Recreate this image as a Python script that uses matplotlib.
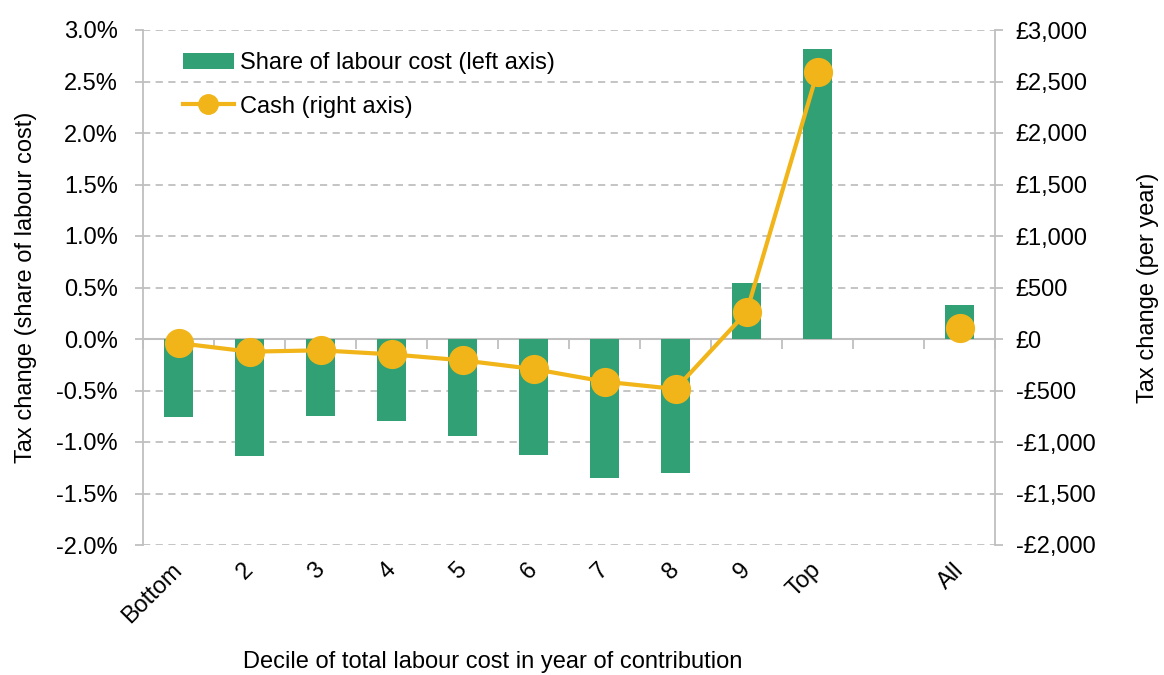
import numpy as np
import matplotlib
matplotlib.use("Agg")
import matplotlib.pyplot as plt
from matplotlib.ticker import FuncFormatter
from matplotlib.transforms import ScaledTranslation

plt.rcParams['font.family'] = ['Liberation Sans', 'DejaVu Sans']

# data
labels = ['Bottom', '2', '3', '4', '5', '6', '7', '8', '9', 'Top', '', 'All']
share = [-0.76, -1.14, -0.75, -0.80, -0.94, -1.13, -1.35, -1.30, 0.54, 2.82, np.nan, 0.33]
cash = [-40, -123, -110, -149, -207, -291, -414, -485, 259, 2595, np.nan, 104]

green = '#31A075'
yellow = '#F1B51A'
grey = '#BFBFBF'
fs = 17

fig = plt.figure(figsize=(11.64, 6.75), dpi=100)
ax = fig.add_axes([143 / 1164, 1 - 545 / 675, (995 - 143) / 1164, (545 - 30) / 675])
ax2 = ax.twinx()

x = np.arange(len(labels))

# bars (left axis)
bars = ax.bar(x, share, width=0.4, color=green, zorder=2, label='Share of labour cost (left axis)')
ax.set_xlim(-0.5, len(labels) - 0.5)
ax.set_ylim(-2.0, 3.0)
ax.set_yticks(np.arange(-2.0, 3.01, 0.5))
ax.yaxis.set_major_formatter(FuncFormatter(lambda v, p: f'{v:.1f}%'))
ax.grid(axis='y', color=grey, linestyle=(0, (4, 3)), linewidth=1.3, zorder=0)
ax.set_axisbelow(True)

# line (right axis)
line, = ax2.plot(x, cash, color=yellow, linewidth=3, marker='o', markersize=20,
                 zorder=3, label='Cash (right axis)')
ax2.set_ylim(-2000, 3000)
ax2.set_yticks(np.arange(-2000, 3001, 500))
ax2.yaxis.set_major_formatter(FuncFormatter(
    lambda v, p: f'£{v:,.0f}' if v >= 0 else f'-£{-v:,.0f}'))

for a in (ax, ax2):
    for s in ('top', 'bottom'):
        a.spines[s].set_visible(False)
    a.spines['left'].set_color(grey)
    a.spines['right'].set_color(grey)
    a.spines['left'].set_linewidth(1.3)
    a.spines['right'].set_linewidth(1.3)
ax.spines['right'].set_visible(False)
ax2.spines['left'].set_visible(False)

ax.tick_params(axis='y', colors=grey, labelcolor='black', labelsize=fs, length=6, width=1.3, pad=12)
ax2.tick_params(axis='y', colors=grey, labelcolor='black', labelsize=fs, length=6, width=1.3, pad=9)

# category labels at bottom
ax.set_xticks(x)
ax.set_xticklabels(labels, rotation=45, ha='right', fontsize=fs)
ax.tick_params(axis='x', length=0, pad=10)
shift = ScaledTranslation(6 / 72, 0, fig.dpi_scale_trans)
for t in ax.get_xticklabels():
    t.set_transform(t.get_transform() + shift)

# zero axis with boundary ticks
zero_frac = (0 - ax.get_ylim()[0]) / (ax.get_ylim()[1] - ax.get_ylim()[0])
sec = ax.secondary_xaxis(zero_frac)
sec.set_xticks(np.arange(-0.5, len(labels), 1.0))
sec.set_xticklabels([])
sec.tick_params(axis='x', colors=grey, length=7, width=1.3, direction='out')
sec.spines['bottom'].set_color(grey)
sec.spines['bottom'].set_linewidth(1.5)

ax.set_ylabel('Tax change (share of labour cost)', fontsize=fs)
ax.yaxis.set_label_coords(-0.1245, 0.5)
ax2.set_ylabel('Tax change (per year)', fontsize=fs)
ax2.yaxis.set_label_coords(1.167, 0.5)
ax.set_xlabel('Decile of total labour cost in year of contribution', fontsize=fs)
ax.xaxis.set_label_coords(0.41, -0.227)
ax.xaxis.label.set_va('center')

ax2.legend([bars, line], [bars.get_label(), line.get_label()], loc='upper left',
           bbox_to_anchor=(0.036, 0.975), frameon=False, fontsize=fs, markerscale=0.7,
           handlelength=2.15, handletextpad=0.25, labelspacing=0.9, borderaxespad=0)

fig.savefig('out.png', dpi=100)
